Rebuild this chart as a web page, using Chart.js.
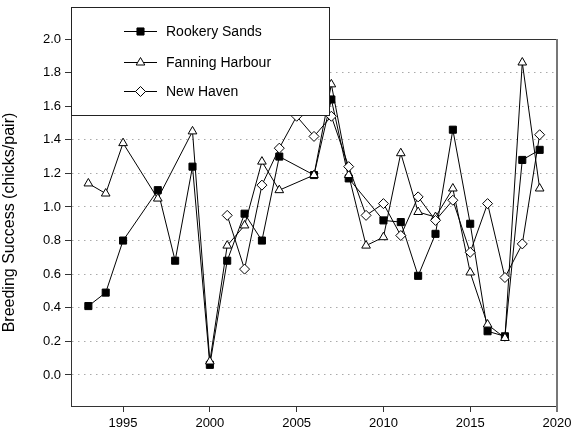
<!DOCTYPE html>
<html>
<head>
<meta charset="utf-8">
<script src="https://cdn.jsdelivr.net/npm/chart.js@4/dist/chart.umd.min.js"></script>
<style>
  html, body { margin: 0; padding: 0; background: #fff; }
  #wrap { width: 582px; height: 438px; }
</style>
</head>
<body>
<div id="wrap"><canvas id="c" width="582" height="438"></canvas></div>
<script>
// ---- data ----
const years = [1993,1994,1995,1996,1997,1998,1999,2000,2001,2002,2003,2004,2005,2006,2007,2008,2009,2010,2011,2012,2013,2014,2015,2016,2017,2018,2019];
const rookerySands   = [0.41,0.49,0.80,null,1.10,0.68,1.24,0.06,0.68,0.96,0.80,1.30,null,1.19,1.64,1.17,null,0.92,0.91,0.59,0.84,1.46,0.90,0.26,0.23,1.28,1.34];
const fanningHarbour = [1.14,1.08,1.38,null,1.05,null,1.45,0.08,0.77,0.89,1.27,1.10,null,1.19,1.73,1.19,0.77,0.82,1.32,0.97,0.94,1.11,0.61,0.30,0.22,1.86,1.11];
const newHaven       = [null,null,null,null,null,null,null,null,0.95,0.63,1.13,1.35,1.54,1.42,1.54,1.24,0.95,1.02,0.83,1.06,0.92,1.04,0.73,1.02,0.58,0.78,1.43];
const seriesNames = ['Rookery Sands', 'Fanning Harbour', 'New Haven'];
const xTickValues = [1995, 2000, 2005, 2010, 2015, 2020];
const yTickValues = [0.0, 0.2, 0.4, 0.6, 0.8, 1.0, 1.2, 1.4, 1.6, 1.8, 2.0];
const yTitle = 'Breeding Success (chicks/pair)';

const FONT = "'Liberation Sans', Arial, sans-serif";

function toPoints(vals) {
  const pts = [];
  vals.forEach((v, i) => { if (v !== null) pts.push({ x: years[i], y: v }); });
  return pts;
}

const styles = [
  { pointStyle: 'rect',     bg: '#000', order: 3 },
  { pointStyle: 'triangle', bg: '#fff', order: 2 },
  { pointStyle: 'rectRot',  bg: '#fff', order: 1 }
];
const seriesData = [rookerySands, fanningHarbour, newHaven];

const datasets = seriesData.map((vals, i) => ({
  label: seriesNames[i],
  data: toPoints(vals),
  borderColor: '#000',
  borderWidth: 1,
  backgroundColor: styles[i].bg,
  pointStyle: styles[i].pointStyle,
  pointRadius: 5,
  pointBackgroundColor: styles[i].bg,
  pointBorderColor: '#000',
  pointBorderWidth: 1,
  tension: 0,
  fill: false,
  order: styles[i].order
}));

function drawMarker(ctx, style, x, y, r, fill) {
  ctx.save();
  ctx.beginPath();
  if (style === 'rect') {
    const s = Math.SQRT1_2 * r;
    ctx.rect(x - s, y - s, 2 * s, 2 * s);
  } else if (style === 'triangle') {
    let rad = 0;
    ctx.moveTo(x + Math.sin(rad) * r, y - Math.cos(rad) * r);
    rad += 2 * Math.PI / 3;
    ctx.lineTo(x + Math.sin(rad) * r, y - Math.cos(rad) * r);
    rad += 2 * Math.PI / 3;
    ctx.lineTo(x + Math.sin(rad) * r, y - Math.cos(rad) * r);
    ctx.closePath();
  } else {
    ctx.moveTo(x, y - r); ctx.lineTo(x + r, y); ctx.lineTo(x, y + r); ctx.lineTo(x - r, y); ctx.closePath();
  }
  ctx.fillStyle = fill; ctx.fill();
  ctx.lineWidth = 1; ctx.strokeStyle = '#000'; ctx.stroke();
  ctx.restore();
}

const framePlugin = {
  id: 'frameAndLegend',
  afterDraw(chart) {
    const ctx = chart.ctx;
    const a = chart.chartArea;
    ctx.save();
    // top and right frame lines
    ctx.strokeStyle = '#333';
    ctx.lineWidth = 1;
    ctx.beginPath();
    ctx.moveTo(a.left, Math.round(a.top) + 0.5);
    ctx.lineTo(a.right, Math.round(a.top) + 0.5);
    ctx.stroke();
    ctx.strokeStyle = '#777';
    ctx.lineWidth = 2;
    ctx.beginPath();
    ctx.moveTo(Math.round(a.right), a.top);
    ctx.lineTo(Math.round(a.right), a.bottom + 6);
    ctx.stroke();

    // legend box
    const bx = Math.round(a.left) + 0.5, by = 7.5, bw = 258, bh = 108;
    ctx.fillStyle = '#fff';
    ctx.fillRect(bx, by, bw, bh);
    ctx.strokeStyle = '#222';
    ctx.lineWidth = 1;
    ctx.strokeRect(bx, by, bw, bh);

    const rows = [31, 62, 91];
    ctx.font = '14px ' + FONT;
    ctx.textBaseline = 'middle';
    ctx.textAlign = 'left';
    rows.forEach((ry, i) => {
      ctx.strokeStyle = '#000';
      ctx.lineWidth = 1;
      ctx.beginPath();
      ctx.moveTo(124, ry + 0.5);
      ctx.lineTo(157, ry + 0.5);
      ctx.stroke();
      drawMarker(ctx, styles[i].pointStyle, 140.5, ry + 0.5, 5, styles[i].bg);
      ctx.fillStyle = '#000';
      ctx.fillText(seriesNames[i], 166, ry + 1);
    });
    ctx.restore();
  }
};

new Chart(document.getElementById('c'), {
  type: 'line',
  data: { datasets },
  options: {
    responsive: false,
    animation: false,
    layout: { padding: { top: 39, right: 25, left: 0, bottom: 0 } },
    plugins: { legend: { display: false }, tooltip: { enabled: false } },
    scales: {
      x: {
        type: 'linear',
        min: 1992,
        max: 2020,
        afterBuildTicks: (s) => { s.ticks = xTickValues.map(v => ({ value: v })); },
        afterFit: (s) => { s.height = 32; },
        ticks: {
          color: '#000',
          font: { family: FONT, size: 13 },
          padding: 4,
          maxRotation: 0,
          callback: (v) => String(v)
        },
        grid: {
          drawOnChartArea: false,
          drawTicks: true,
          tickLength: 6,
          tickColor: '#333'
        },
        border: { display: true, color: '#333', width: 1 }
      },
      y: {
        type: 'linear',
        min: -0.185,
        max: 2.0,
        afterBuildTicks: (s) => { s.ticks = yTickValues.map(v => ({ value: v })); },
        afterFit: (s) => { s.width = 71; },
        ticks: {
          color: '#000',
          font: { family: FONT, size: 13 },
          padding: 4,
          callback: (v) => Number(v).toFixed(1)
        },
        grid: {
          color: (ctx) => (ctx.tick && ctx.tick.value >= 1.99) ? 'rgba(0,0,0,0)' : '#aaa',
          lineWidth: 1,
          drawTicks: true,
          tickLength: 6,
          tickColor: '#333'
        },
        border: { display: true, color: '#333', width: 1, dash: [1.5, 4.5] },
        title: {
          display: true,
          text: yTitle,
          color: '#000',
          font: { family: FONT, size: 16 },
          padding: { top: 0, bottom: 4 }
        }
      }
    }
  },
  plugins: [framePlugin]
});
</script>
</body>
</html>
